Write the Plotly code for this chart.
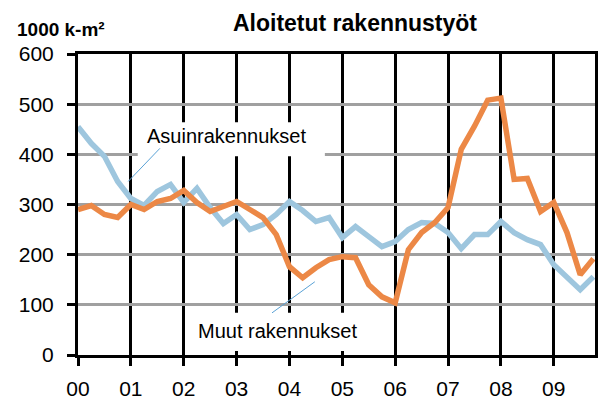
import plotly.graph_objects as go

# ---- data (quarterly, 2000Q1 .. 2009Q4) ----
years = list(range(2000, 2010))
quarters = [y + q * 0.25 for y in years for q in range(4)]
asuin = [455, 422, 396, 346, 312, 298, 326, 340, 304, 332, 294, 262,
         280, 250, 260, 280, 306, 288, 266, 274, 234, 256, 236, 216,
         226, 250, 264, 262, 244, 212, 240, 240, 266, 244, 230, 220,
         180, 156, 130, 156]
muut = [290, 298, 280, 274, 300, 290, 306, 312, 328, 304, 286, 296,
        306, 290, 274, 240, 176, 154, 174, 190, 196, 194, 140, 116,
        104, 210, 244, 264, 294, 410, 456, 508, 512, 350, 352, 286,
        304, 244, 160, 192]
tick_years = list(range(2000, 2010))
tick_labels = ["00", "01", "02", "03", "04", "05", "06", "07", "08", "09"]
y_ticks = [0, 100, 200, 300, 400, 500, 600]

BLUE = "#9EC6DE"
ORANGE = "#EC8846"
FONT = "Liberation Sans, Arial, sans-serif"

W, H = 598, 401
L, R, T, B = 78, 3, 54, 46
PW, PH = W - L - R, H - T - B


def px_to_paper_x(px):
    return (px - L) / PW


def px_to_paper_y(py):
    return (H - B - py) / PH


fig = go.Figure()
fig.add_trace(go.Scatter(x=quarters, y=asuin, mode="lines", name="Asuinrakennukset",
                         line=dict(color=BLUE, width=5.5), hoverinfo="skip"))
fig.add_trace(go.Scatter(x=quarters, y=muut, mode="lines", name="Muut rakennukset",
                         line=dict(color=ORANGE, width=5.5), hoverinfo="skip"))

shapes = []
# label boxes (white, covering gridlines) and leader lines
shapes.append(dict(type="rect", xref="x", yref="y", x0=2001.13, x1=2004.67, y0=396, y1=464,
                   fillcolor="white", line=dict(width=0), layer="above"))
shapes.append(dict(type="rect", xref="x", yref="y", x0=2002.2, x1=2005.43, y0=8, y1=84,
                   fillcolor="white", line=dict(width=0), layer="above"))
shapes.append(dict(type="line", xref="x", yref="y", x0=2000.95, y0=346, x1=2001.55, y1=412,
                   line=dict(color="#5AA2D6", width=1), layer="above"))
shapes.append(dict(type="line", xref="x", yref="y", x0=2003.67, y0=84, x1=2004.48, y1=146,
                   line=dict(color="#5AA2D6", width=1), layer="above"))

annotations = [
    dict(text="Asuinrakennukset", xref="x", yref="y", x=2002.8, y=436, showarrow=False,
         font=dict(family=FONT, size=20, color="black"), xanchor="center", yanchor="middle"),
    dict(text="Muut rakennukset", xref="x", yref="y", x=2003.78, y=48, showarrow=False,
         font=dict(family=FONT, size=20, color="black"), xanchor="center", yanchor="middle"),
    dict(text="<b>1000 k-m²</b>", xref="paper", yref="paper",
         x=px_to_paper_x(15), y=px_to_paper_y(29), showarrow=False,
         font=dict(family=FONT, size=19, color="black"), xanchor="left", yanchor="middle"),
]

fig.update_layout(
    width=W, height=H,
    margin=dict(l=L, r=R, t=T, b=B, pad=0, autoexpand=False),
    paper_bgcolor="white", plot_bgcolor="white",
    showlegend=False,
    title=dict(text="<b>Aloitetut rakennustyöt</b>", x=355 / W, xanchor="center",
               y=1 - 23 / H, yanchor="middle", automargin=False,
               font=dict(family=FONT, size=23, color="black")),
    shapes=shapes, annotations=annotations,
    xaxis=dict(range=[2000, 2009.78], tickmode="array", tickvals=tick_years, ticktext=tick_labels,
               showgrid=True, gridcolor="black", gridwidth=3,
               showline=True, linecolor="black", linewidth=3, mirror=True,
               ticks="outside", ticklen=8, tickwidth=3, tickcolor="black",
               tickfont=dict(family=FONT, size=21, color="black"),
               ticklabelstandoff=5, zeroline=False, fixedrange=True, automargin=False),
    yaxis=dict(range=[0, 600], tickmode="array", tickvals=y_ticks,
               showgrid=True, gridcolor="#A0A0A0", gridwidth=3,
               showline=True, linecolor="black", linewidth=3, mirror=True,
               ticks="outside", ticklen=8, tickwidth=3, tickcolor="black",
               tickfont=dict(family=FONT, size=21, color="black"),
               ticklabelstandoff=9, zeroline=False, fixedrange=True, automargin=False),
)

fig.write_html(
    "out.html",
    config={"displayModeBar": False},
    post_script="document.body.style.margin='0';document.body.style.overflow='hidden';",
)
